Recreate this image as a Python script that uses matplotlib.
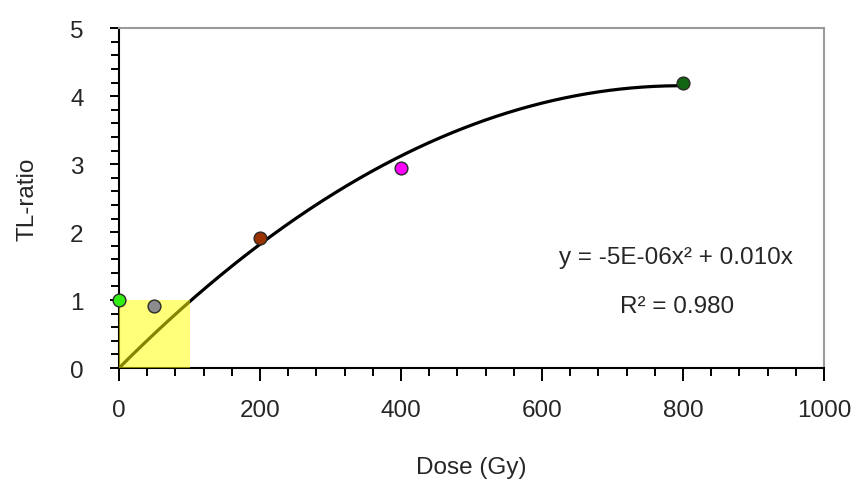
import numpy as np
import matplotlib
matplotlib.use("Agg")
import matplotlib.pyplot as plt
from matplotlib.patches import Rectangle
from matplotlib.ticker import MultipleLocator

plt.rcParams["font.family"] = ["Liberation Sans", "DejaVu Sans"]

# Measured TL-ratio at each dose
dose = [0, 50, 200, 400, 800]
tl_ratio = [1.0, 0.92, 1.92, 2.95, 4.19]
point_colors = ["#33ee11", "#8c8c8c", "#993300", "#ff00ff", "#116611"]

equation_label = "y = -5E-06x² + 0.010x"
r2_label = "R² = 0.980"

x_ticks = [0, 200, 400, 600, 800, 1000]
y_ticks = [0, 1, 2, 3, 4, 5]

# Second-order polynomial through the origin, least squares
xd = np.asarray(dose, dtype=float)
yd = np.asarray(tl_ratio, dtype=float)
A = np.column_stack([xd ** 2, xd])
(a2, a1), *_ = np.linalg.lstsq(A, yd, rcond=None)
xf = np.linspace(0, max(dose), 400)
yf = a2 * xf ** 2 + a1 * xf

fig = plt.figure(figsize=(8.58, 4.81), dpi=100)
ax = fig.add_axes([0.1387, 0.2328, 0.9604 - 0.1387, 0.9391 - 0.2328])

txt = "#262626"
fs = 17.5

ax.plot(xf, yf, color="black", lw=2.3, zorder=3, solid_capstyle="butt")
for x, y, c in zip(dose, tl_ratio, point_colors):
    ax.plot(x, y, "o", ms=9.2, mfc=c, mec="#2a2a2a", mew=1.0, zorder=6,
            clip_on=False)

# Highlighted low-dose region
ax.add_patch(Rectangle((0, 0), 100, 1, facecolor="#ffff00", alpha=0.52,
                       edgecolor="none", zorder=5))

ax.set_xlim(0, 1000)
ax.set_ylim(0, 5)
ax.set_xticks(x_ticks)
ax.set_yticks(y_ticks)
ax.xaxis.set_minor_locator(MultipleLocator(40))
ax.yaxis.set_minor_locator(MultipleLocator(0.2))

ax.tick_params(axis="x", which="major", direction="out", length=9.4, width=1.4,
               pad=13, labelsize=fs, labelcolor=txt, color="black")
ax.tick_params(axis="x", which="minor", direction="out", length=5.8, width=1.4,
               color="black")
ax.tick_params(axis="y", which="major", direction="out", length=6.5, width=1.4,
               pad=19, labelsize=fs, labelcolor=txt, color="black")
ax.tick_params(axis="y", which="minor", direction="out", length=5.5, width=1.4,
               color="black")

for side in ("left", "bottom"):
    ax.spines[side].set_color("black")
    ax.spines[side].set_linewidth(1.5)
for side in ("top", "right"):
    ax.spines[side].set_color("#9a9a9a")
    ax.spines[side].set_linewidth(1.5)

ax.set_xlabel("Dose (Gy)", fontsize=fs, color=txt, labelpad=25)
ax.set_ylabel("TL-ratio", fontsize=fs, color=txt, labelpad=23)

ax.text(790, 1.63, equation_label, fontsize=fs, color=txt, ha="center",
        va="center", zorder=7)
ax.text(792, 0.91, r2_label, fontsize=fs, color=txt, ha="center",
        va="center", zorder=7)

fig.savefig("out.png", dpi=100)
